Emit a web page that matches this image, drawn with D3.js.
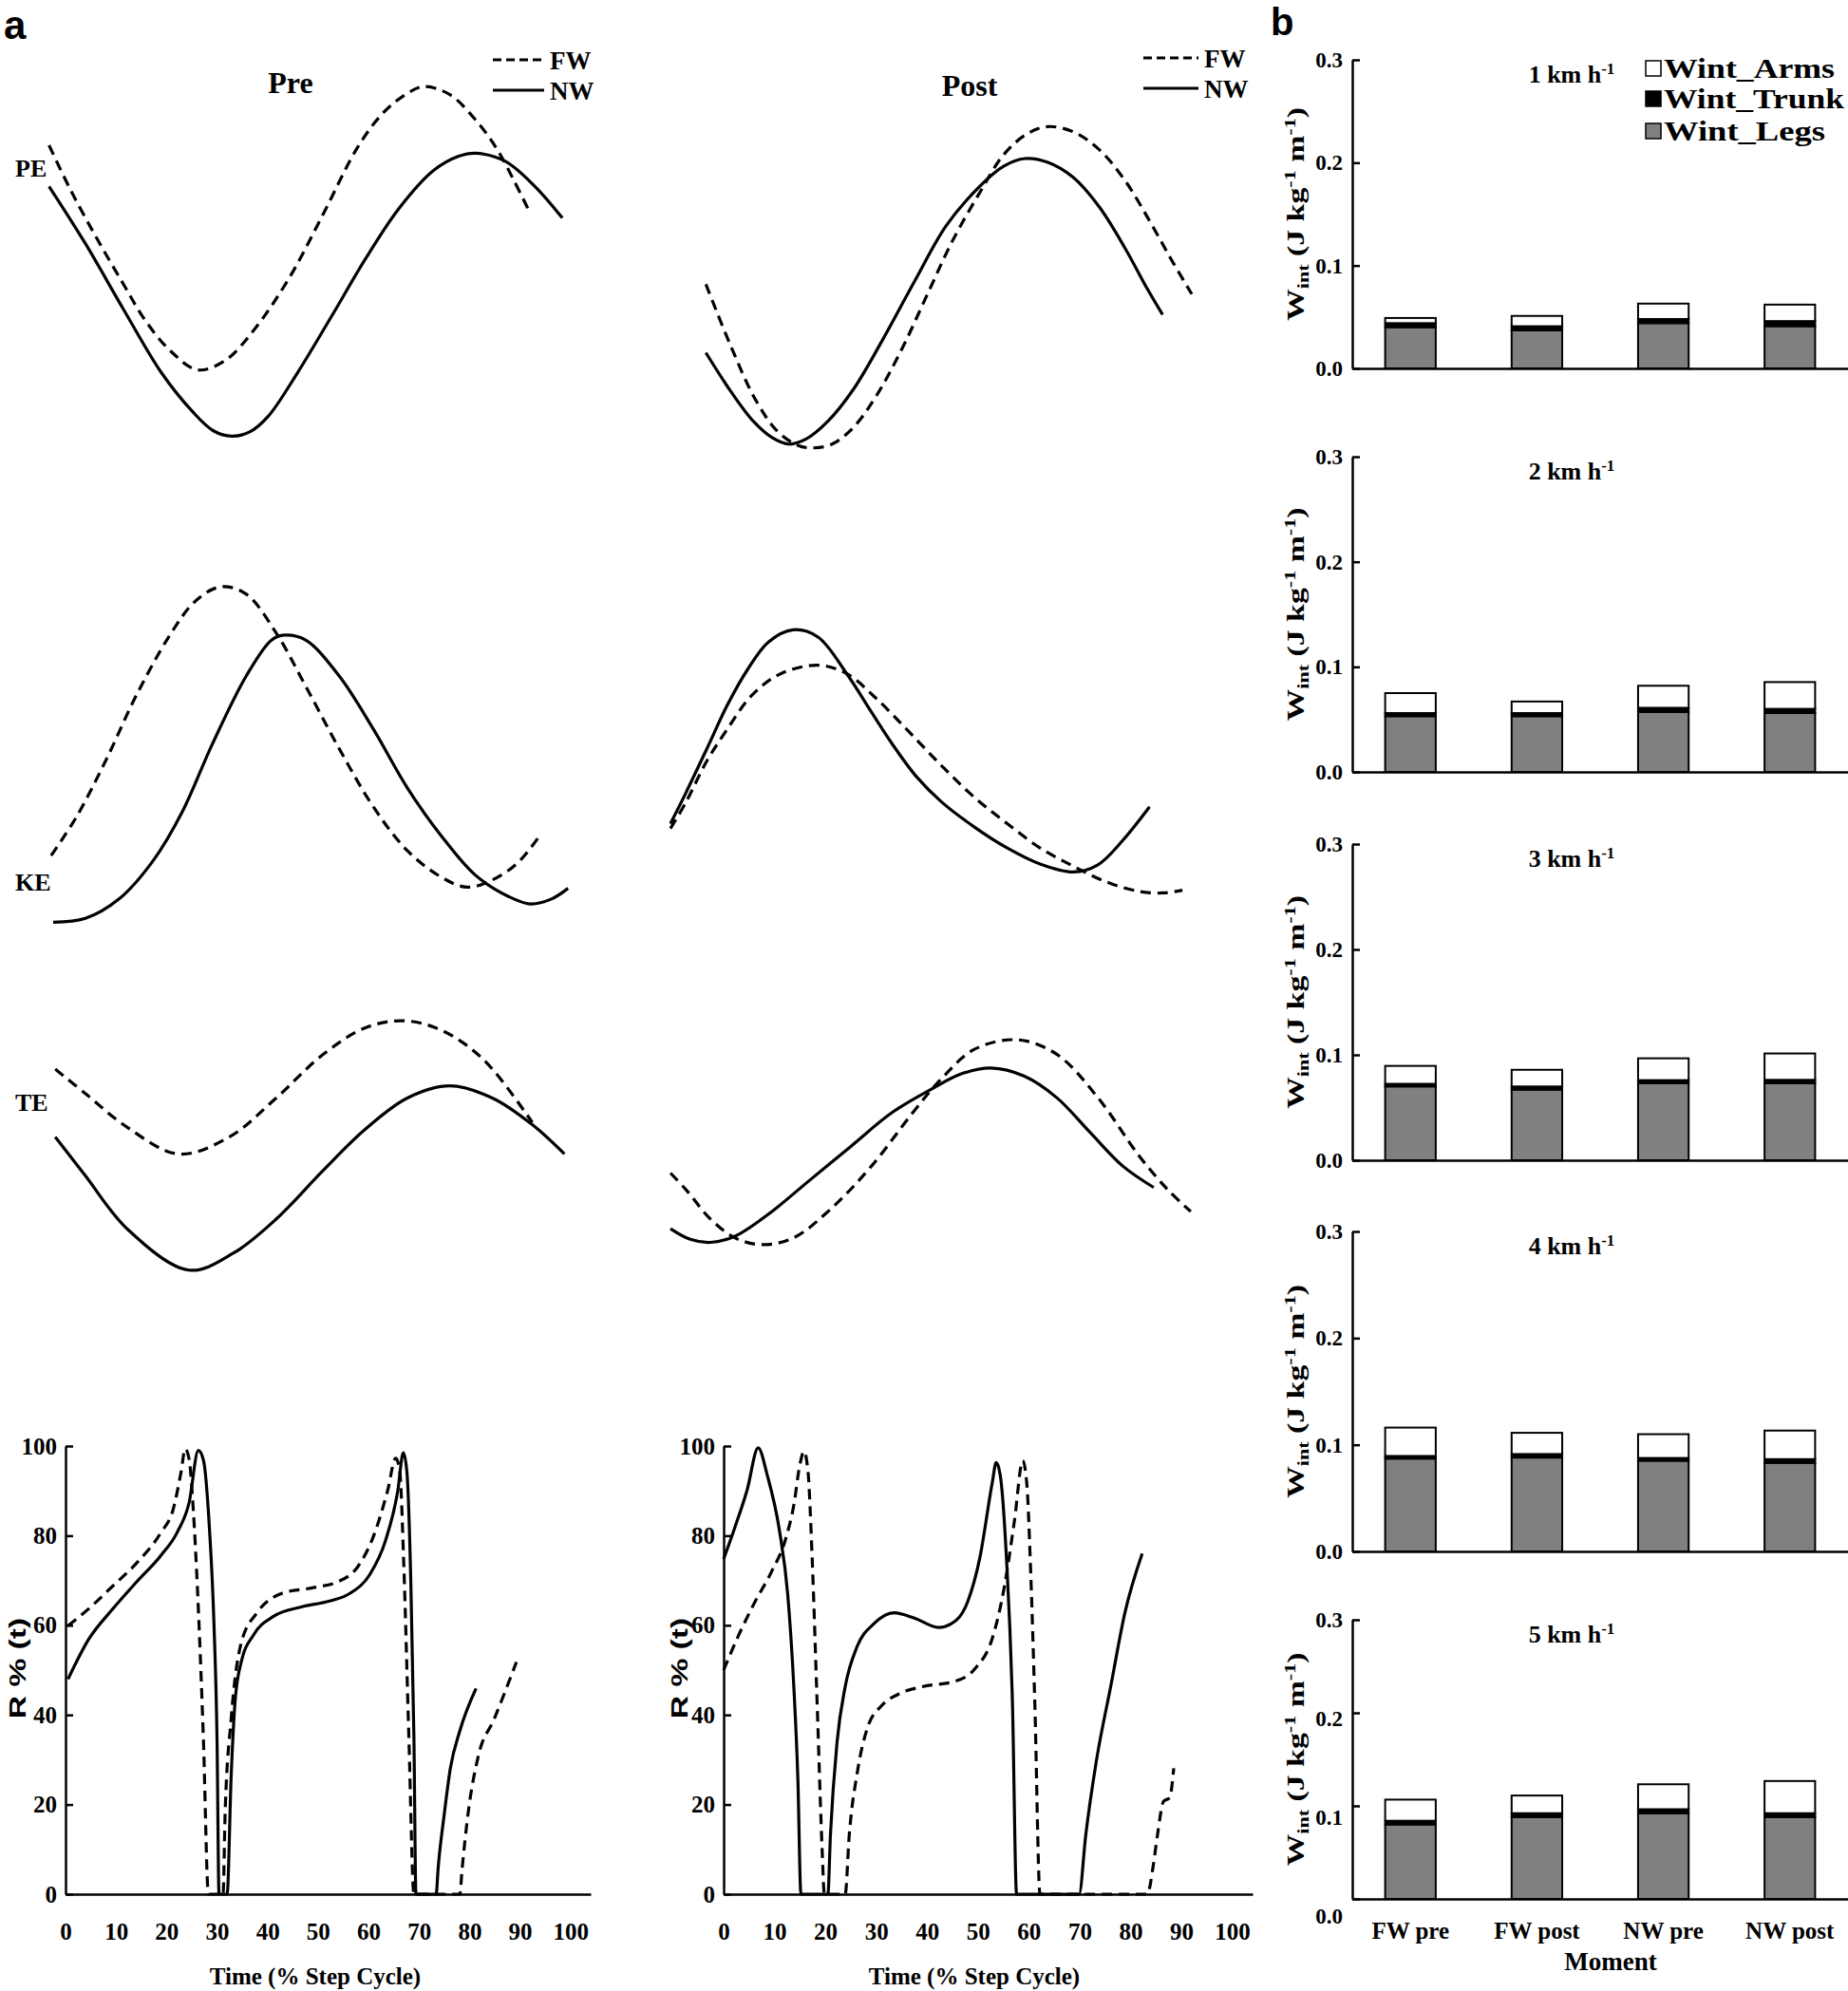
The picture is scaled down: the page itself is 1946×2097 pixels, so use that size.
<!DOCTYPE html>
<html>
<head>
<meta charset="utf-8">
<script src="https://cdn.jsdelivr.net/npm/d3@7"></script>
<style>
  body { margin: 0; background: #fff; }
</style>
</head>
<body>
<script>
// ---------- data ----------
// energy curves (time in % of the step cycle, energy in arbitrary units 0-100)
var prePE_FW = [[0.3,81.8],[4.4,70.2],[9.7,56.9],[14.7,45.2],[18.7,36.1],[23.7,27.8],[29.0,22.8],[34.3,25.3],[40.0,33.6],[46.6,46.9],[53.1,63.5],[59.7,81.0],[64.6,90.1],[69.5,95.5],[72.7,97.2],[77.6,95.1],[82.6,88.4],[86.6,81.0],[89.9,72.7],[92.8,64.8]];
var prePE_NW = [[0.3,71.0],[7.3,56.0],[14.7,38.6],[22.0,22.0],[28.0,11.8],[32.0,6.8],[35.5,5.4],[39.0,6.5],[42.5,10.5],[48.2,22.0],[54.8,36.9],[61.3,51.9],[67.8,65.2],[74.4,75.1],[79.3,78.9],[82.6,79.7],[88.3,77.6],[94.0,71.0],[99.3,62.7]];
var postPE_FW = [[6.8,45.3],[11.5,29.3],[16.3,15],[20.5,6.7],[24.4,3],[27.3,2.3],[31.0,3.3],[35.1,7.7],[39.5,16],[44.4,28.3],[49.3,42.7],[54.1,56.7],[59.3,69.3],[63.9,79.3],[68.3,84.7],[72.4,86.7],[77.3,85.3],[82.2,80.7],[87.1,72.7],[92.0,61.7],[96.1,51.7],[100,42.7]];
var postPE_NW = [[6.8,27.3],[11.5,17.3],[15.9,9.3],[19.5,5],[22.7,3.3],[26.1,4.7],[30.2,9.3],[35.1,17.7],[40.7,30.7],[46.8,46],[52.9,60.7],[59.3,71],[63.9,76.3],[68.0,78.3],[72.4,77.3],[77.3,73.3],[82.2,65.7],[87.1,55],[91.5,44],[94.4,37.3]];

var preKE_FW = [[0.7,25.4],[5.6,35.6],[11.4,50.8],[17.1,67.4],[23.6,83.3],[28.5,92.2],[33.4,96.0],[38.3,94.1],[44.1,83.9],[49.8,69.9],[56.3,53.4],[62.9,38.1],[69.4,26.7],[76.0,19.7],[80.9,17.1],[85.8,19.0],[90.7,23.5],[94.7,30.2]];
var preKE_NW = [[1.1,7.9],[7.3,8.9],[13.8,14.0],[20.4,24.1],[26.0,36.9],[31.8,54.7],[38.3,72.5],[43.2,82.0],[45.7,83.3],[49.8,82.0],[56.3,72.5],[62.9,58.5],[69.4,43.2],[76.0,30.5],[82.5,20.3],[89.0,14.6],[93.1,12.7],[97.2,14.0],[100.4,16.8]];
var postKE_FW = [[0,32.5],[3.0,39.5],[7.0,50.3],[10.9,58.6],[15.6,67.5],[21.2,73.2],[28.3,75.4],[33.8,73.2],[39.3,66.9],[45.7,58.0],[52.0,49.0],[58.3,40.7],[64.6,33.8],[70.9,27.4],[77.3,22.6],[83.6,18.5],[89.9,16.0],[94.6,15.6],[98.2,16.3]];
var postKE_NW = [[0,33.8],[3.0,42.0],[7.0,53.5],[10.9,64.9],[14.9,74.5],[18.8,81.5],[23.5,84.7],[28.3,82.8],[33.8,73.2],[38.6,63.0],[42.5,54.8],[47.2,46.1],[52.0,39.5],[58.3,32.9],[64.6,27.4],[70.9,23.2],[77.3,21.1],[82.0,23.0],[86.7,29.3],[91.9,38.2]];

var preTE_FW = [[1.5,56.1],[7.3,49.7],[15.4,40.8],[25.3,33.8],[35.1,38.3],[44.1,48.5],[53.1,59.9],[61.2,66.9],[68.6,68.8],[76.0,66.3],[84.1,58.6],[93.5,42.1]];
var preTE_NW = [[1.5,38.3],[7.3,28.1],[15.4,14.1],[27.3,3.3],[35.9,7.8],[44.1,16.7],[53.1,29.4],[61.2,40.2],[69.4,48.5],[77.6,51.7],[85.8,48.5],[93.5,41.5],[99.7,33.8]];
var postTE_FW = [[0,28.8],[3.0,24.4],[7.7,16.7],[12.5,11.7],[17.6,10.0],[23.5,11.7],[30.7,19.3],[38.6,30.7],[46.5,44.7],[52.0,53.6],[58.3,61.3],[66.6,63.8],[74.1,60.0],[82.0,48.6],[89.9,33.3],[95.4,24.4],[99.8,18.7]];
var postTE_NW = [[0,14.2],[3.8,11.4],[7.7,10.6],[12.5,12.3],[18.8,18.0],[26.7,26.9],[34.6,35.8],[42.5,44.7],[50.4,51.1],[55.9,54.9],[61.5,56.4],[67.8,54.3],[74.1,48.6],[80.4,39.6],[86.7,30.7],[92.7,25.0]];

// recovery R% (t)
var rPre_FW = [[0.5,59.9],[4.6,63.7],[9.4,68.8],[14.1,73.9],[18.9,80.7],[21.3,85.8],[22.9,94.3],[23.7,99.4],[24.5,96.9],[25.3,85.8],[26.1,68.8],[27.3,34.8],[28.3,0],
  [31.2,0],[31.6,17.8],[32.8,39.1],[34.8,56.1],[38.0,62.9],[42.8,67.1],[49.1,68.4],[53.9,69.7],[57.9,73.1],[61.0,79.9],[63.8,90.1],[65.4,97.3],[66.2,94.3],[67.0,73.1],[68.0,34.8],[69.0,0],
  [78.1,0],[78.5,5.1],[79.7,17.8],[81.7,30.6],[84.9,39.1],[89.3,51.8]];
var rPre_NW = [[0.5,48.0],[4.6,56.9],[9.4,63.7],[14.1,69.7],[18.9,75.6],[22.1,80.7],[24.5,87.5],[26.3,99.0],[27.3,96.9],[28.5,81.6],[29.4,60.3],[30.0,34.8],[30.4,0],
  [32.0,0],[32.8,26.3],[33.6,43.3],[34.8,51.8],[37.2,57.8],[41.2,62.0],[46.7,64.1],[52.3,65.4],[56.3,67.1],[60.3,71.4],[63.4,79.0],[65.8,90.0],[66.9,98.5],[67.6,94.3],[68.4,68.8],[69.0,34.8],[69.4,0],
  [73.4,0],[73.8,5.9],[75.0,17.8],[76.2,28.0],[78.1,36.5],[81.3,45.9]];
var rPost_FW = [[0,50.0],[3.0,57.9],[6.2,65.3],[9.4,71.9],[12.2,79.3],[13.8,86.8],[15.0,95.9],[15.8,98.8],[16.6,94.2],[17.4,75.2],[18.4,42.1],[19.4,9.1],[19.8,0],
  [23.9,0],[24.7,13.2],[26.3,27.3],[28.3,37.2],[31.1,42.1],[34.3,44.6],[39.1,46.3],[45.5,47.5],[49.5,50.4],[52.8,57.0],[55.2,68.6],[57.2,83.5],[58.8,96.7],[59.6,91.7],[60.4,71.1],[61.2,42.1],[62.2,0],
  [83.3,0],[84.5,6.6],[85.3,13.2],[86.5,20.7],[87.7,21.5],[88.5,28.1]];
var rPost_NW = [[0,74.8],[2.2,81.8],[4.6,90.1],[6.8,99.6],[8.6,93.4],[11.0,81.0],[12.6,66.9],[13.8,46.3],[14.6,25.6],[15.2,0],
  [20.5,0],[21.0,13.2],[22.3,33.9],[23.9,46.3],[26.3,55.4],[29.5,60.3],[33.5,62.8],[37.5,61.6],[42.3,59.5],[44.7,60.3],[48.0,65.3],[50.4,75.2],[52.8,91.7],[53.6,96.3],[54.4,93.4],[55.6,75.2],[56.8,42.1],[57.6,0],
  [69.9,0],[71.2,13.2],[73.3,29.8],[76.1,46.3],[78.9,62.8],[82.3,76.0]];

var cycleTicks = [0, 10, 20, 30, 40, 50, 60, 70, 80, 90, 100];
var rTicks = [0, 20, 40, 60, 80, 100];

// internal work (J kg-1 m-1), panel b
var speeds = ["1", "2", "3", "4", "5"];
var moments = ["FW pre", "FW post", "NW pre", "NW post"];
var wLegs = [
  [0.040, 0.037, 0.044, 0.041],
  [0.053, 0.053, 0.057, 0.056],
  [0.070, 0.067, 0.073, 0.073],
  [0.087, 0.088, 0.085, 0.083],
  [0.080, 0.088, 0.092, 0.088]];
var wTrunk = [
  [0.004, 0.004, 0.004, 0.005],
  [0.003, 0.003, 0.004, 0.004],
  [0.0025, 0.003, 0.003, 0.0033],
  [0.0025, 0.0033, 0.0026, 0.0035],
  [0.004, 0.0041, 0.0044, 0.0041]];
var wArms = [
  [0.005, 0.010, 0.015, 0.016],
  [0.019, 0.011, 0.021, 0.0255],
  [0.017, 0.0158, 0.0207, 0.025],
  [0.0266, 0.0199, 0.0223, 0.0268],
  [0.0227, 0.019, 0.0268, 0.0346]];
var wTicks = [0, 0.1, 0.2, 0.3];

// ---------- setup ----------
var svgWidth = 1946;
var svgHeight = 2097;
var serif = "'Liberation Serif','Times New Roman',serif";
var sans = "'Liberation Sans',Arial,sans-serif";
var lineW = 3.2;
var dash = "11,7";

var svg = d3.select("body")
  .append("svg")
  .attr("width", svgWidth)
  .attr("height", svgHeight)
  .style("background", "#fff");

function addText(x, y, txt, size, opts) {
  opts = opts || {};
  return svg.append("text")
    .attr("x", x)
    .attr("y", y)
    .attr("font-family", opts.family || serif)
    .attr("font-weight", "bold")
    .attr("font-size", size)
    .attr("text-anchor", opts.anchor || "start")
    .attr("fill", "#000")
    .text(txt);
}

function drawCurve(data, x, y, dashed, curve) {
  var line = d3.line()
    .x(d => x(d[0]))
    .y(d => y(d[1]))
    .curve(curve);
  svg.append("path")
    .datum(data)
    .attr("d", line)
    .attr("fill", "none")
    .attr("stroke", "#000")
    .attr("stroke-width", lineW)
    .attr("stroke-dasharray", dashed ? dash : null);
}

function styleAxis(g, size) {
  g.select(".domain").attr("stroke", "#000").attr("stroke-width", 2.5);
  g.selectAll(".tick line").attr("stroke", "#000").attr("stroke-width", 2.5);
  g.selectAll(".tick text")
    .attr("font-family", serif)
    .attr("font-weight", "bold")
    .attr("font-size", size)
    .attr("fill", "#000");
}

// ---------- panel a: energy curves ----------
addText(4, 41, "a", 42, {family: sans});

var preX = d3.scaleLinear().domain([0, 100]).range([50, 596]);
var postX = d3.scaleLinear().domain([0, 100]).range([706, 1255]);

var energyRows = [
  {label: "PE", labelY: 186, bottom: 481, pre: [prePE_FW, prePE_NW], post: [postPE_FW, postPE_NW]},
  {label: "KE", labelY: 938, bottom: 1003, pre: [preKE_FW, preKE_NW], post: [postKE_FW, postKE_NW]},
  {label: "TE", labelY: 1170, bottom: 1351, pre: [preTE_FW, preTE_NW], post: [postTE_FW, postTE_NW]}
];

var smooth = d3.curveCatmullRom.alpha(0.5);
energyRows.forEach(function(row) {
  var y = d3.scaleLinear().domain([0, 100]).range([row.bottom, row.bottom - 401]);
  drawCurve(row.pre[0], preX, y, true, smooth);
  drawCurve(row.pre[1], preX, y, false, smooth);
  drawCurve(row.post[0], postX, y, true, smooth);
  drawCurve(row.post[1], postX, y, false, smooth);
  addText(16, row.labelY, row.label, 26);
});

addText(306, 98, "Pre", 32, {anchor: "middle"});
addText(1021, 101, "Post", 32, {anchor: "middle"});

// legends FW / NW
[[519, 573, 579, 63, 95], [1204, 1262, 1268, 61, 93]].forEach(function(lg) {
  svg.append("line").attr("x1", lg[0]).attr("x2", lg[1]).attr("y1", lg[3]).attr("y2", lg[3])
    .attr("stroke", "#000").attr("stroke-width", lineW).attr("stroke-dasharray", "9,5");
  svg.append("line").attr("x1", lg[0]).attr("x2", lg[1]).attr("y1", lg[4]).attr("y2", lg[4])
    .attr("stroke", "#000").attr("stroke-width", lineW);
  addText(lg[2], lg[3] + 10, "FW", 27);
  addText(lg[2], lg[4] + 10, "NW", 27);
});

// ---------- panel a: R% (t) ----------
var rPanels = [
  {x0: 69, x1: 622, fw: rPre_FW, nw: rPre_NW, title: 332, ylab: 27},
  {x0: 762, x1: 1319, fw: rPost_FW, nw: rPost_NW, title: 1026, ylab: 724}
];
var rY = d3.scaleLinear().domain([0, 100]).range([1995, 1523]);

rPanels.forEach(function(p) {
  var x = d3.scaleLinear().domain([0, 104]).range([p.x0, p.x1]);

  var xAxis = svg.append("g")
    .attr("transform", `translate(0, ${rY(0)})`)
    .call(d3.axisBottom(x).tickValues(cycleTicks).tickSize(0).tickPadding(30));
  styleAxis(xAxis, 25);

  var yAxis = svg.append("g")
    .attr("transform", `translate(${p.x0}, 0)`)
    .call(d3.axisLeft(rY).tickValues(rTicks).tickSizeInner(-8).tickSizeOuter(0).tickPadding(9));
  styleAxis(yAxis, 25);

  drawCurve(p.fw, x, rY, true, d3.curveMonotoneX);
  drawCurve(p.nw, x, rY, false, d3.curveMonotoneX);

  addText(p.title, 2090, "Time (% Step Cycle)", 25, {anchor: "middle"});
  addText(0, 0, "R % (t)", 24, {family: sans, anchor: "middle"})
    .attr("transform", `translate(${p.ylab}, 1757) rotate(-90) scale(1.4, 1)`);
});

// ---------- panel b: internal work bars ----------
addText(1338, 37, "b", 40, {family: sans});

var axisX = 1424;
var panelTop = [63, 481, 889, 1297, 1706];
var panelBottom = [388, 813, 1222, 1634, 2000];
var labelBottom = [388, 813, 1222, 1634, 2018];
var barX = d3.scaleBand().domain(moments).range([axisX, 1946]).paddingInner(0.6).paddingOuter(0.26);
var keys = ["legs", "trunk", "arms"];
var fills = {legs: "#808080", trunk: "#000000", arms: "#ffffff"};

speeds.forEach(function(sp, p) {
  var y = d3.scaleLinear().domain([0, 0.3]).range([panelBottom[p], panelTop[p]]);
  var yLab = d3.scaleLinear().domain([0, 0.3]).range([labelBottom[p], panelTop[p]]);

  var rows = moments.map(function(m, i) {
    return {moment: m, legs: wLegs[p][i], trunk: wTrunk[p][i], arms: wArms[p][i]};
  });
  var stacked = d3.stack().keys(keys)(rows);

  stacked.forEach(function(layer) {
    svg.append("g").selectAll("rect")
      .data(layer)
      .enter()
      .append("rect")
      .attr("x", d => barX(d.data.moment))
      .attr("width", barX.bandwidth())
      .attr("y", d => y(d[1]))
      .attr("height", d => y(d[0]) - y(d[1]))
      .attr("fill", fills[layer.key])
      .attr("stroke", "#000")
      .attr("stroke-width", 2);
  });

  var yAxis = svg.append("g")
    .attr("transform", `translate(${axisX}, 0)`)
    .call(d3.axisLeft(y).tickValues(wTicks).tickSizeInner(-8).tickSizeOuter(0).tickFormat(""));
  styleAxis(yAxis, 23);

  svg.append("g").selectAll("text")
    .data(wTicks)
    .enter()
    .append("text")
    .attr("x", axisX - 10)
    .attr("y", d => yLab(d))
    .attr("dy", "0.35em")
    .attr("text-anchor", "end")
    .attr("font-family", serif)
    .attr("font-weight", "bold")
    .attr("font-size", 23)
    .text(d => d3.format(".1f")(d));

  var xAxis = svg.append("g")
    .attr("transform", `translate(0, ${panelBottom[p]})`)
    .call(d3.axisBottom(barX).tickSize(0).tickPadding(24).tickFormat(p === 4 ? (d => d) : ""));
  styleAxis(xAxis, 25);

  // speed title
  var t = addText(1655, panelTop[p] + 24, sp + " km h", 26, {anchor: "middle"});
  t.append("tspan").attr("dy", -9).attr("font-size", 17).text("-1");

  // y label
  var mid = (panelTop[p] + panelBottom[p]) / 2;
  var yl = svg.append("text")
    .attr("transform", `translate(1373, ${mid}) rotate(-90) scale(1.3, 1)`)
    .attr("text-anchor", "middle")
    .attr("font-family", serif)
    .attr("font-weight", "bold")
    .attr("font-size", 26);
  yl.append("tspan").text("W");
  yl.append("tspan").attr("dy", 5).attr("font-size", 17).text("int");
  yl.append("tspan").attr("dy", -5).text(" (J kg");
  yl.append("tspan").attr("dy", -9).attr("font-size", 17).text("-1");
  yl.append("tspan").attr("dy", 9).text(" m");
  yl.append("tspan").attr("dy", -9).attr("font-size", 17).text("-1");
  yl.append("tspan").attr("dy", 9).text(")");
});

addText(1696, 2075, "Moment", 27, {anchor: "middle"});

// legend for panel b
var legendItems = [
  {key: "arms", label: "Wint_Arms", y: 72, len: 180},
  {key: "trunk", label: "Wint_Trunk", y: 104, len: 190},
  {key: "legs", label: "Wint_Legs", y: 138, len: 170}
];
legendItems.forEach(function(d) {
  svg.append("rect")
    .attr("x", 1733).attr("y", d.y - 8).attr("width", 16).attr("height", 16)
    .attr("fill", fills[d.key]).attr("stroke", "#000").attr("stroke-width", 1.5);
  addText(1752, d.y, d.label, 29)
    .attr("dy", "0.35em")
    .attr("textLength", d.len)
    .attr("lengthAdjust", "spacingAndGlyphs");
});
</script>
</body>
</html>
